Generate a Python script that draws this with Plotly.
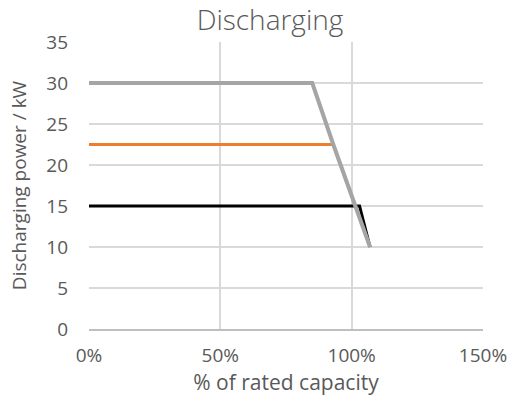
import plotly.graph_objects as go

x_gray = [0, 85, 93, 107]
y_gray = [30, 30, 22.5, 10]
x_orange = [0, 93, 107]
y_orange = [22.5, 22.5, 10]
x_black = [0, 103, 107]
y_black = [15, 15, 10]

fig = go.Figure()
fig.add_trace(go.Scatter(x=x_black, y=y_black, mode="lines",
                         line=dict(color="#000000", width=3)))
fig.add_trace(go.Scatter(x=x_orange, y=y_orange, mode="lines",
                         line=dict(color="#ED7D31", width=3)))
fig.add_trace(go.Scatter(x=x_gray, y=y_gray, mode="lines",
                         line=dict(color="#A5A5A5", width=4)))

font = "Open Sans, Noto Sans, sans-serif"
W, H = 515, 397
fig.update_layout(
    width=W, height=H,
    margin=dict(l=89, r=32, t=42, b=68),
    paper_bgcolor="white", plot_bgcolor="white",
    showlegend=False,
    title=dict(text="Discharging", x=270 / W, xanchor="center",
               xref="container", yref="container", y=1 - 20.5 / H, yanchor="middle",
               font=dict(family=font, size=28, color="#595959", weight=300)),
    xaxis=dict(range=[0, 150], tickvals=[0, 50, 100, 150],
               ticktext=["0%", "50%", "100%", "150%"],
               automargin=False,
               showgrid=True, gridcolor="#D9D9D9", gridwidth=1.5,
               showline=True, linecolor="#BFBFBF", linewidth=1.5,
               zeroline=False, ticks="", ticklabelstandoff=8,
               tickfont=dict(family=font, size=19, color="#595959"),
               title=dict(text="% of rated capacity", standoff=0,
                          font=dict(family=font, size=21, color="#595959"))),
    yaxis=dict(range=[0, 35], tickvals=[0, 5, 10, 15, 20, 25, 30, 35],
               automargin=False,
               showgrid=True, gridcolor="#D9D9D9", gridwidth=1.5,
               zeroline=False, showline=False, ticks="",
               ticklabelstandoff=20,
               tickfont=dict(family=font, size=19, color="#595959"),
               title=dict(text="Discharging power / kW", standoff=14,
                          font=dict(family=font, size=19, color="#595959"))),
)
fig.write_html("out.html", config={"displayModeBar": False},
               post_script="document.body.style.margin='0';")
